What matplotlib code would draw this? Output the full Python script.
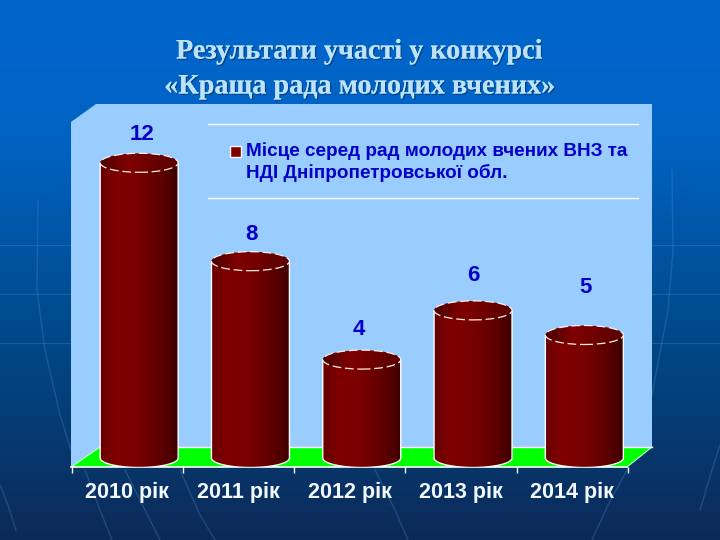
import numpy as np
import matplotlib
matplotlib.use('Agg')
import matplotlib.pyplot as plt
import matplotlib.patheffects as pe
from matplotlib.colors import LinearSegmentedColormap
from matplotlib.patches import Ellipse, PathPatch, Polygon, Rectangle
from matplotlib.path import Path

years = ['2010 рік', '2011 рік', '2012 рік', '2013 рік', '2014 рік']
places = [12, 8, 4, 6, 5]
label_gaps = [20, 18, 22, 26, 39]   # px above the cylinder, labels were moved by hand in the original
label_shifts = [3, 1, -3, 0, 1]
title_lines = ['Результати участі у конкурсі', '«Краща рада молодих вчених»']
legend_lines = ['Місце серед рад молодих вчених ВНЗ та', 'НДІ Дніпропетровської обл.']

W, H = 720, 540
UNIT = 24.6      # px per one place
BASE = 458       # px of value 0
STEP = 111.3     # px per category
LEFT = 71.5
BOTTOM = 467
BLUE = '#0000c8'

fig = plt.figure(figsize=(7.2, 5.4), dpi=100)

# background in pixel coordinates
bg = fig.add_axes([0, 0, 1, 1])
bg.set_xlim(0, W)
bg.set_ylim(H, 0)
bg.axis('off')
grad = LinearSegmentedColormap.from_list('bg', [(0, '#0066cc'), (0.25, '#0063c4'), (0.6, '#004a8c'), (1, '#0c2a58')])
bg.imshow(np.linspace(0, 1, 256).reshape(-1, 1), cmap=grad, extent=[0, W, H, 0], aspect='auto', zorder=0)
decor = [
    [(38, 200), (37, 290), (45, 350), (60, 415), (71, 450)],
    [(672, 170), (673, 250), (668, 310), (652, 395)],
    [(85, 470), (100, 510), (112, 540)],
    [(125, 470), (145, 510), (160, 540)],
    [(180, 470), (200, 515), (215, 540)],
    [(375, 470), (395, 510), (408, 540)],
    [(627, 470), (608, 505), (592, 540)],
    [(0, 485), (8, 505), (16, 530)],
    [(700, 510), (712, 470), (720, 445)],
]
for pts in decor:
    xs, ys = zip(*pts)
    bg.plot(xs, ys, color='#4f8fd0', lw=1, alpha=0.3, zorder=1)
for y in [245, 294, 343]:
    bg.plot([0, 720], [y, y], color='#6fa8e0', lw=0.8, alpha=0.22, zorder=1)

# chart walls and floor
bg.add_patch(Polygon([(71, 122), (96, 104), (652, 104), (652, 447), (100, 447), (71, 467)],
                     closed=True, fc='#99ccff', ec='none', zorder=2))
bg.add_patch(Polygon([(71, 467), (100, 447), (652, 447), (627, 467)],
                     closed=True, fc='#00ff00', ec='none', zorder=3))
bg.plot([100, 652], [447, 447], color='white', lw=1, zorder=3)
bg.plot([71, 100], [467, 447], color='#ccffcc', lw=0.8, zorder=3)
bg.plot([627, 652], [467, 447], color='#ccffcc', lw=0.8, zorder=3)
bg.plot([71, 627], [467, 467], color='white', lw=1.2, zorder=4)

# chart axes: x in categories, y in places
ax = fig.add_axes([LEFT / W, 1 - BOTTOM / H, 5 * STEP / W, (BOTTOM - 104) / H])
ax.set_xlim(0, 5)
ax.set_ylim(-(BOTTOM - BASE) / UNIT, (BASE - 104) / UNIT)
ax.patch.set_alpha(0)
for s in ax.spines.values():
    s.set_visible(False)
ax.set_yticks([])
ax.set_xticks(np.arange(6))
ax.set_xticklabels([])
ax.tick_params(axis='x', color='white', length=4, width=1, pad=0)
for i, y in enumerate(years):
    ax.annotate(y, (i + 0.5, 0), xycoords=('data', 'axes fraction'), xytext=(0, -15),
                textcoords='offset pixels', ha='center', va='top', color='#f2f8ff',
                fontsize=15.5, fontweight='bold', family='Liberation Sans')

# cylinders
bar_w = 78 / STEP
ell_h = 19 / UNIT
shift = 12 / STEP
body_cmap = LinearSegmentedColormap.from_list('body', [(0, '#660000'), (0.2, '#800000'), (0.5, '#780000'),
                                                       (0.8, '#5c0000'), (1, '#3c0000')])
top_cmap = LinearSegmentedColormap.from_list('top', [(0, '#4a0000'), (0.35, '#800000'), (0.7, '#6a0000'), (1, '#5a0000')])
t = np.linspace(np.pi, 2 * np.pi, 40)
for i, v in enumerate(places):
    cx = i + 0.5 + shift
    x0, x1 = cx - bar_w / 2, cx + bar_w / 2
    arc_x = cx + bar_w / 2 * np.cos(t)
    arc_y = -ell_h / 2 * np.abs(np.sin(t))
    verts = [(x0, v)] + list(zip(arc_x, arc_y)) + [(x1, v), (x0, v)]
    clip = PathPatch(Path(verts), transform=ax.transData, fc='none', ec='white', lw=1, zorder=3)
    ax.add_patch(clip)
    im = ax.imshow(np.linspace(0, 1, 128).reshape(1, -1), cmap=body_cmap, aspect='auto', zorder=2,
                   extent=[x0, x1, -ell_h, v])
    im.set_clip_path(clip)
    top = Ellipse((cx, v), bar_w, ell_h, transform=ax.transData, fc='none', ec='none', zorder=4)
    ax.add_patch(top)
    im2 = ax.imshow(np.linspace(0, 1, 128).reshape(1, -1), cmap=top_cmap, aspect='auto', zorder=4,
                    extent=[x0, x1, v - ell_h / 2, v + ell_h / 2])
    im2.set_clip_path(top)
    ax.add_patch(Ellipse((cx, v), bar_w, ell_h, fc='none', ec='#fff0e0', lw=0.9, ls=(0, (7, 3)), zorder=5))
    ax.annotate(str(v), (cx, v + ell_h / 2), xytext=(label_shifts[i], label_gaps[i] - 1), textcoords='offset pixels',
                ha='center', va='center', color=BLUE, fontsize=16, fontweight='bold',
                family='Liberation Sans', zorder=6)
ax.set_xlim(0, 5)
ax.set_ylim(-(BOTTOM - BASE) / UNIT, (BASE - 104) / UNIT)

# legend
bg.plot([208, 638], [124, 124], color='white', lw=1, zorder=5)
bg.plot([208, 638], [198, 198], color='white', lw=1, zorder=5)
bg.add_patch(Rectangle((230, 146), 11, 11, fc='#800000', ec='white', lw=1, zorder=5))
bg.text(246, 151, legend_lines[0], color=BLUE, fontsize=13.6, fontweight='bold',
        family='Liberation Sans', va='center', ha='left', zorder=5)
bg.text(246, 173, legend_lines[1], color=BLUE, fontsize=13.6, fontweight='bold',
        family='Liberation Sans', va='center', ha='left', zorder=5)

# title
shadow = [pe.withSimplePatchShadow(offset=(1, -1), shadow_rgbFace='#003366', alpha=0.6), pe.Normal()]
for line, y in zip(title_lines, [52, 87]):
    bg.text(360, y, line, color='#bfe2fb', fontsize=20.3, fontweight='bold', family='Liberation Serif',
            ha='center', va='center', zorder=6, path_effects=shadow)

fig.savefig('out.png', dpi=100)
